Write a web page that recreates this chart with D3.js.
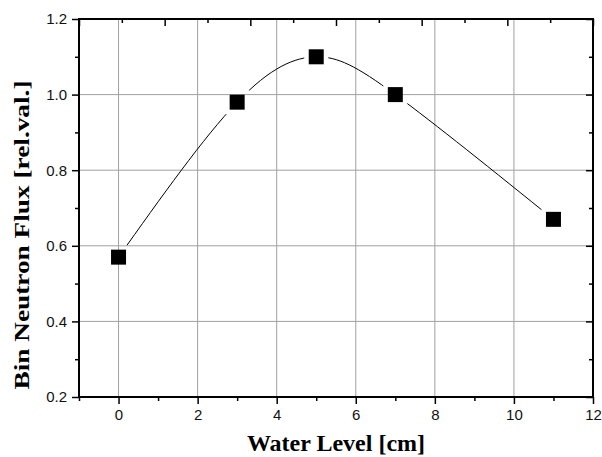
<!DOCTYPE html>
<html>
<head>
<meta charset="utf-8">
<script src="https://cdn.jsdelivr.net/npm/d3@7"></script>
<style>
  body { margin: 0; background: #fff; }
  svg { display: block; }
</style>
</head>
<body>
<script>
  // measured values
  const waterLevel = [0, 3, 5, 7, 11];
  const flux = [0.57, 0.98, 1.10, 1.00, 0.67];
  const xTicks = [0, 2, 4, 6, 8, 10, 12];
  const yTicks = [0.2, 0.4, 0.6, 0.8, 1.0, 1.2];

  const data = waterLevel.map((d, i) => ({x: d, y: flux[i]}));

  const W = 602, H = 457;
  const margin = {top: 19, right: 9, bottom: 60, left: 79};
  const width = W - margin.left - margin.right;
  const height = H - margin.top - margin.bottom;

  const svg = d3.select('body')
    .append('svg')
    .attr('width', W)
    .attr('height', H);

  const g = svg.append('g')
    .attr('transform', 'translate(' + margin.left + ',' + margin.top + ')');

  let x = d3.scaleLinear()
      .domain([-1, 12])
      .range([0, width]);

  let y = d3.scaleLinear()
      .domain([0.2, 1.2])
      .range([height, 0]);

  // top axis has its own tick spacing (6 intervals, no labels)
  let xTop = d3.scaleLinear()
      .domain([0, 6])
      .range([0, width]);

  const xMinor = d3.range(-1, 12, 2);
  const yMinor = d3.range(0.3, 1.2, 0.2);

  // grid
  g.append('g').selectAll('line')
    .data(xTicks.filter(d => d < 12))
    .enter().append('line')
      .attr('x1', d => x(d)).attr('x2', d => x(d))
      .attr('y1', 0).attr('y2', height)
      .attr('stroke', '#a0a0a0')
      .attr('stroke-width', 1);

  g.append('g').selectAll('line')
    .data(yTicks.filter(d => d > 0.2 && d < 1.2))
    .enter().append('line')
      .attr('x1', 0).attr('x2', width)
      .attr('y1', d => y(d)).attr('y2', d => y(d))
      .attr('stroke', '#a0a0a0')
      .attr('stroke-width', 1);

  // axes
  const tickFont = g => g.selectAll('text')
    .attr('font-family', 'Liberation Sans, Arial, sans-serif')
    .attr('font-size', '15px')
    .attr('fill', '#111');

  g.append('g')
    .attr('transform', 'translate(0,' + height + ')')
    .call(d3.axisBottom(x).tickValues(xTicks).tickSize(7).tickPadding(5).tickSizeOuter(0))
    .call(tickFont);

  g.append('g')
    .attr('transform', 'translate(0,' + height + ')')
    .call(d3.axisBottom(x).tickValues(xMinor).tickSize(4).tickFormat('').tickSizeOuter(0));

  g.append('g')
    .call(d3.axisLeft(y).tickValues(yTicks).tickFormat(d3.format('.1f')).tickSize(7).tickPadding(5).tickSizeOuter(0))
    .call(tickFont);

  g.append('g')
    .call(d3.axisLeft(y).tickValues(yMinor).tickSize(4).tickFormat('').tickSizeOuter(0));

  g.append('g')
    .call(d3.axisBottom(xTop).ticks(6).tickSize(7).tickFormat('').tickSizeOuter(0));

  g.append('g')
    .call(d3.axisBottom(xTop).tickValues(d3.range(0.5, 6, 1)).tickSize(4).tickFormat('').tickSizeOuter(0));

  g.append('g')
    .attr('transform', 'translate(' + width + ',0)')
    .call(d3.axisLeft(y).tickValues(yTicks).tickSize(7).tickFormat('').tickSizeOuter(0));

  g.append('g')
    .attr('transform', 'translate(' + width + ',0)')
    .call(d3.axisLeft(y).tickValues(yMinor).tickSize(4).tickFormat('').tickSizeOuter(0));

  g.selectAll('.domain').remove();
  g.selectAll('.tick line').attr('stroke', '#000').attr('stroke-width', 1.5);

  // frame
  g.append('rect')
    .attr('width', width)
    .attr('height', height)
    .attr('fill', 'none')
    .attr('stroke', '#000')
    .attr('stroke-width', 2);

  // line with gaps round the markers
  const mask = svg.append('defs').append('mask').attr('id', 'gap');
  mask.append('rect')
    .attr('x', -margin.left).attr('y', -margin.top)
    .attr('width', W).attr('height', H)
    .attr('fill', '#fff');
  mask.selectAll('.hole')
    .data(data)
    .enter().append('rect')
      .attr('class', 'hole')
      .attr('x', d => x(d.x) - 12)
      .attr('y', d => y(d.y) - 12)
      .attr('width', 24)
      .attr('height', 24)
      .attr('fill', '#000');

  let line = d3.line()
      .x(function(d) { return x(d.x); })
      .y(function(d) { return y(d.y); })
      .curve(d3.curveNatural);

  g.append('path')
    .datum(data)
    .attr('d', line)
    .attr('fill', 'none')
    .attr('stroke', '#000')
    .attr('stroke-width', 1)
    .attr('mask', 'url(#gap)');

  g.selectAll('.pt')
    .data(data)
    .enter().append('rect')
      .attr('class', 'pt')
      .attr('x', d => x(d.x) - 7.5)
      .attr('y', d => y(d.y) - 7.5)
      .attr('width', 15)
      .attr('height', 15)
      .attr('fill', '#000');

  // axis titles
  svg.append('text')
    .text('Water Level [cm]')
    .attr('transform', 'translate(' + (margin.left + x(5.5)) + ',451)')
    .attr('text-anchor', 'middle')
    .attr('font-family', 'Liberation Serif, Times New Roman, serif')
    .attr('font-weight', 'bold')
    .attr('font-size', '24px')
    .attr('fill', '#000');

  svg.append('text')
    .text('Bin Neutron Flux [rel.val.]')
    .attr('transform', 'translate(29,235) rotate(-90) scale(1.3,1)')
    .attr('text-anchor', 'middle')
    .attr('font-family', 'Liberation Serif, Times New Roman, serif')
    .attr('font-weight', 'bold')
    .attr('font-size', '21px')
    .attr('fill', '#000');
</script>
</body>
</html>
